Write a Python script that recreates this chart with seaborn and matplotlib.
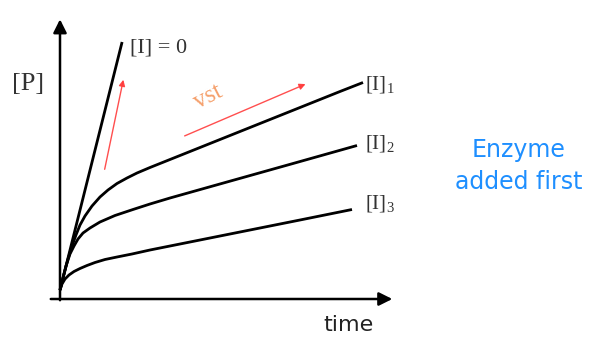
import matplotlib
matplotlib.use("Agg")
import matplotlib.pyplot as plt
import numpy as np
import pandas as pd
import seaborn as sns

# values (time, [P]) in arbitrary units
t_i0 = [0.0, 2.07]
p_i0 = [0.36, 10.28]

t_i1 = [0.0, 0.133, 0.267, 0.4, 0.533, 0.667, 0.833, 1.067, 1.333, 1.6, 1.9, 2.233,
        2.567, 3.0, 4.667, 6.333, 8.0, 9.333, 10.1]
p_i1 = [0.36, 1.0, 1.6, 2.12, 2.56, 2.96, 3.32, 3.72, 4.08, 4.36, 4.62, 4.84,
        5.04, 5.26, 6.06, 6.86, 7.66, 8.3, 8.66]

t_i2 = [0.0, 0.1, 0.2, 0.333, 0.467, 0.6, 0.767, 1.0, 1.333, 1.833, 2.433, 3.0,
        3.667, 5.567, 7.767, 9.9]
p_i2 = [0.36, 0.84, 1.32, 1.8, 2.12, 2.4, 2.64, 2.84, 3.08, 3.34, 3.58, 3.8,
        4.04, 4.68, 5.42, 6.14]

t_i3 = [0.0, 0.067, 0.167, 0.3, 0.467, 0.667, 0.9, 1.167, 1.5, 1.9, 2.4, 3.0,
        4.667, 6.333, 8.0, 9.733]
p_i3 = [0.36, 0.6, 0.8, 0.96, 1.1, 1.22, 1.34, 1.46, 1.58, 1.68, 1.8, 1.96,
        2.36, 2.76, 3.16, 3.58]

series_names = ['[I] = 0', '[I]1', '[I]2', '[I]3']
curve_labels = ['[I]$_{1}$', '[I]$_{2}$', '[I]$_{3}$']

sns.set_theme(style='white')
plt.rcParams['mathtext.fontset'] = 'custom'
plt.rcParams['mathtext.rm'] = 'Liberation Serif'
plt.rcParams['mathtext.it'] = 'Liberation Serif:italic'

frames = []
for name, t, p in zip(series_names, [t_i0, t_i1, t_i2, t_i3], [p_i0, p_i1, p_i2, p_i3]):
    frames.append(pd.DataFrame({'time': t, 'P': p, 'curve': name}))
df = pd.concat(frames, ignore_index=True)

fig = plt.figure(figsize=(5.97, 3.38), dpi=100)
ax = fig.add_axes([0, 0, 1, 1])
sns.lineplot(data=df, x='time', y='P', hue='curve', units='curve', estimator=None,
             sort=False, palette=['black'] * 4, linewidth=2.0, legend=False, ax=ax)
for line in ax.lines:
    line.set_solid_capstyle('butt')
    line.set_solid_joinstyle('round')

ax.set_xlim(-2.0, 17.9)
ax.set_ylim(-1.56, 11.96)
ax.axis('off')

# axes with arrow heads
ax.annotate('', xy=(11.17, 0), xytext=(-0.4, 0),
            arrowprops=dict(arrowstyle='-|>', color='black', lw=1.8, mutation_scale=20))
ax.annotate('', xy=(0, 11.3), xytext=(0, -0.16),
            arrowprops=dict(arrowstyle='-|>', color='black', lw=1.8, mutation_scale=20))

# red "rate" arrows
red_kw = dict(arrowstyle='-|>', color='#ff3b3b', lw=1.0, mutation_scale=9, alpha=0.9)
ax.annotate('', xy=(2.13, 8.88), xytext=(1.47, 5.08), arrowprops=red_kw)
ax.annotate('', xy=(8.27, 8.64), xytext=(4.07, 6.48), arrowprops=red_kw)
ax.text(4.93, 8.08, 'vst', rotation=27, color='#f5a06c', fontsize=18,
        family='Liberation Serif', ha='center', va='center')

serif = dict(family='Liberation Serif', color='#333333', va='center', ha='left')
ax.text(2.33, 10.04, '[I] = 0', fontsize=16, **serif)
for lab, y in zip(curve_labels, [8.6, 6.24, 3.8]):
    ax.text(10.17, y, lab, fontsize=15, **serif)
ax.text(-1.07, 8.6, '[P]', fontsize=19, family='Liberation Serif', color='#333333',
        ha='center', va='center')

ax.text(9.63, -1.04, 'time', fontsize=16, family='DejaVu Sans', color='#222222',
        ha='center', va='center')
ax.text(15.3, 5.32, 'Enzyme\nadded first', fontsize=17, family='DejaVu Sans',
        color='#1e8fff', ha='center', va='center', linespacing=1.45)

fig.savefig('out.png', dpi=100)
